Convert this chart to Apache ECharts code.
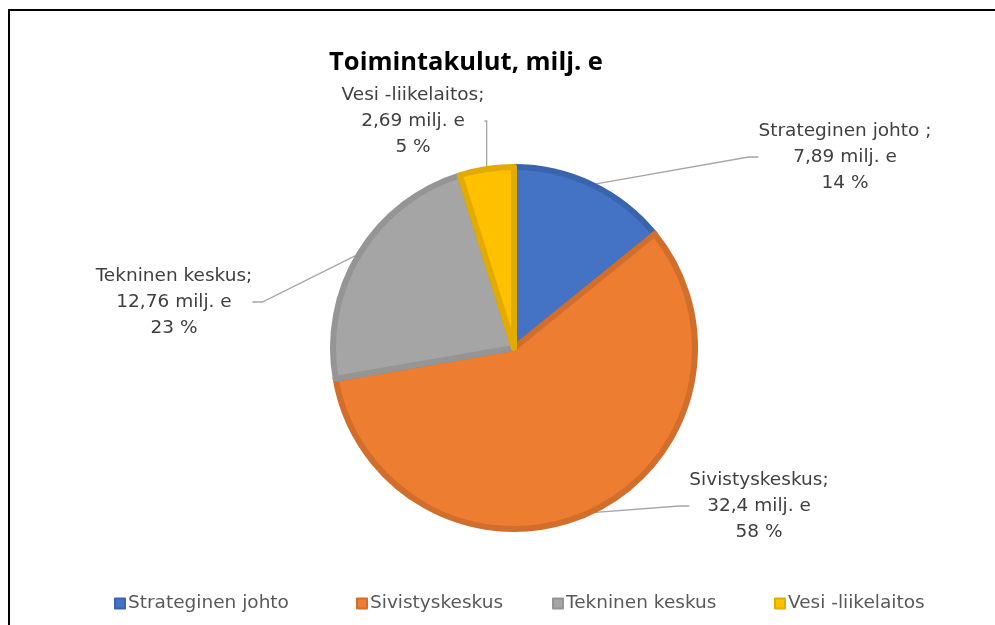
<!DOCTYPE html>
<html>
<head>
<meta charset="utf-8">
<script src="https://cdn.jsdelivr.net/npm/echarts@6/dist/echarts.min.js"></script>
<style>
html,body{margin:0;padding:0;background:#fff;}
#c{width:995px;height:625px;}
</style>
</head>
<body>
<div id="c"></div>
<script>
const categories = ['Strateginen johto', 'Sivistyskeskus', 'Tekninen keskus', 'Vesi -liikelaitos'];
const values = [7.89, 32.4, 12.76, 2.69];
const labelSuffix = [' ;', ';', ';', ';'];

const fills = ['#4472C4', '#ED7D31', '#A5A5A5', '#FFC000'];
const borders = ['#3A64AE', '#D26E2B', '#959595', '#E3AA00'];
const labelPos = [[845, 157], [759, 506], [174, 302], [413, 121]];
const legendLeft = [114, 356, 552, 774];

const FONT = 'DejaVu Sans';
const FS = 18.5;
const chart = echarts.init(document.getElementById('c'), null, {renderer: 'canvas'});

function fmt(v) { return String(v).replace('.', ','); }

chart.setOption({
  backgroundColor: '#ffffff',
  animation: false,
  graphic: [{
    type: 'rect', silent: true,
    shape: {x: 9, y: 10, width: 1000, height: 700},
    style: {fill: 'none', stroke: '#000', lineWidth: 2}
  }],
  title: {
    text: 'Toimintakulut, milj. e',
    left: 461, top: 45, textAlign: 'center',
    textStyle: {fontFamily: 'Open Sans', fontWeight: 'bold', fontSize: 25.5, color: '#000'}
  },
  legend: categories.map((n, i) => ({
    top: 594, left: legendLeft[i],
    itemWidth: 10, itemHeight: 10, itemGap: 0, padding: 0,
    icon: 'rect',
    textStyle: {fontFamily: FONT, fontSize: FS, color: '#595959', padding: [0, 0, 0, -2]},
    data: [n]
  })),
  series: [{
    type: 'pie',
    center: [514, 348],
    radius: 181,
    startAngle: 90,
    clockwise: true,
    avoidLabelOverlap: false,
    data: categories.map((n, i) => ({
      name: n, value: values[i],
      itemStyle: {color: fills[i], borderColor: borders[i], borderWidth: 6}
    })),
    label: {
      show: true,
      position: 'outside',
      fontFamily: FONT, fontSize: FS, color: '#404040', lineHeight: 26,
      align: 'center',
      formatter: p => p.name + labelSuffix[p.dataIndex] + '\n' + fmt(p.value) + ' milj. e\n' + Math.round(p.percent) + ' %'
    },
    labelLine: {show: true, length: 10, length2: 10, lineStyle: {color: '#A6A6A6', width: 1.3}},
    labelLayout: function (params) {
      const p = labelPos[params.dataIndex];
      return {x: p[0], y: p[1], align: 'center', verticalAlign: 'middle'};
    }
  }]
});
</script>
</body>
</html>
